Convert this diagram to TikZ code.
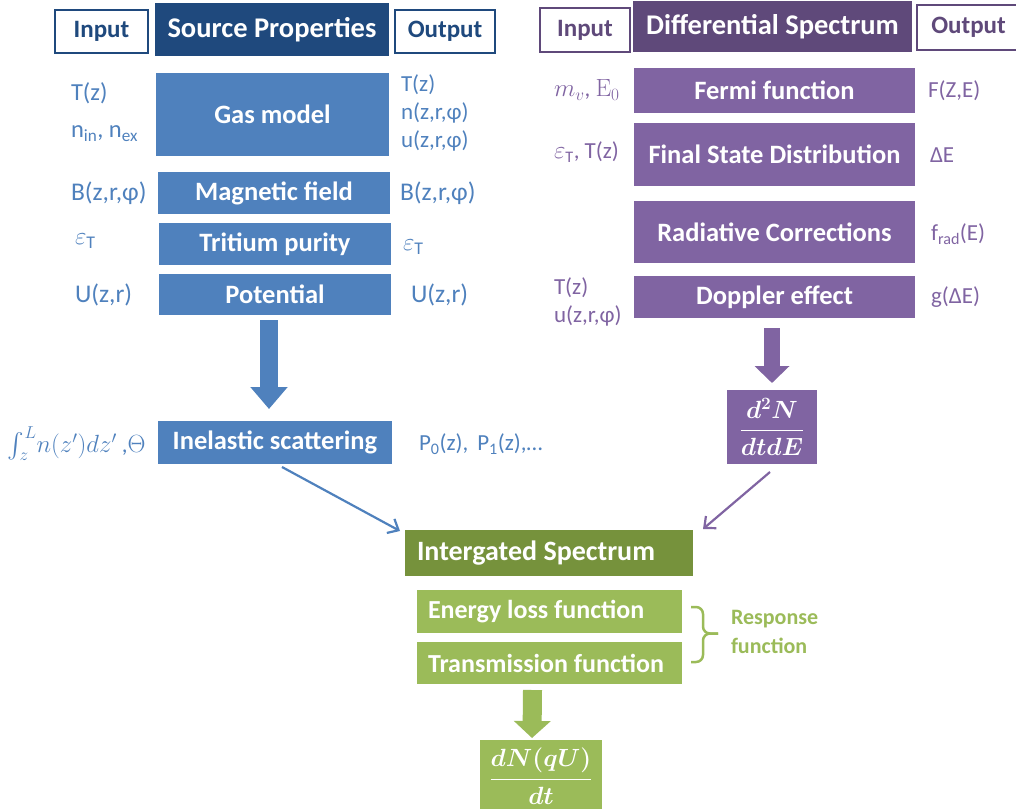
\documentclass[tikz,border=0pt]{standalone}
\usepackage{amsmath}
\usepackage[no-math]{fontspec}
\setmainfont{Carlito}
\usetikzlibrary{arrows.meta,calc}
\definecolor{hdrblue}{HTML}{1F497D}
\definecolor{boxblue}{HTML}{4F81BD}
\definecolor{txtblue}{HTML}{4F81BD}
\definecolor{hdrpurple}{HTML}{5F497A}
\definecolor{boxpurple}{HTML}{8064A2}
\definecolor{txtpurple}{HTML}{8064A2}
\definecolor{dkgreen}{HTML}{76923C}
\definecolor{ltgreen}{HTML}{9BBB59}
\tikzset{
  every node/.style={inner sep=0pt, outer sep=0pt},
  hdrfont/.style={font=\fontsize{28.5}{32}\selectfont\bfseries},
  lblfont/.style={font=\fontsize{26.5}{30}\selectfont\bfseries},
  grnfont/.style={font=\fontsize{26}{30}\selectfont\bfseries},
  iofont/.style={font=\fontsize{23}{28}\selectfont},
  iofontL/.style={font=\fontsize{25.5}{30}\selectfont},
  hdrbox/.style={hdrfont, text=white, fill=#1},
  iobox/.style={font=\fontsize{25}{29}\selectfont\bfseries, text=#1, draw=#1, line width=2.5pt, fill=white},
  fbox/.style={lblfont, text=white, fill=#1},
  gbox/.style={grnfont, text=white, fill=ltgreen, inner xsep=11pt},
  iotext/.style={iofont, text=#1, align=left, anchor=west},
  iotextL/.style={iofontL, text=#1, align=left, anchor=west},
  blockarrow/.style={draw=#1, line width=18pt, -{Triangle[length=22pt, width=36pt]}},
  thinarrow/.style={draw=#1, line width=2.2pt, -{Straight Barb[length=9pt, width=16pt, line width=2.2pt]}},
  bracestyle/.style={draw=ltgreen, line width=2.5pt, rounded corners=7pt},
}
\begin{document}
\begin{tikzpicture}[x=1pt,y=-1pt]
\useasboundingbox (0,0) rectangle (1016,808);
\clip (0,0) rectangle (1016,808);

% ---------- Left: Source Properties ----------
\node[iobox=hdrblue, minimum width=93, minimum height=43] (inL) at (101.5,31.5) {Input};
\node[hdrbox=hdrblue, minimum width=234, minimum height=53] (srcP) at (272,29.5) {Source Properties};
\node[iobox=hdrblue, minimum width=100, minimum height=43] (outL) at (445,31.5) {Output};

\node[fbox=boxblue, minimum width=233, minimum height=83] (gas) at (272.5,114.5) {Gas model};
\node[fbox=boxblue, minimum width=232, minimum height=42] (mag) at (274,193) {Magnetic field};
\node[fbox=boxblue, minimum width=232, minimum height=42] (trit) at (275,244) {Tritium purity};
\node[fbox=boxblue, minimum width=232, minimum height=41] (pot) at (275,294.5) {Potential};
\node[fbox=boxblue, minimum width=234, minimum height=43] (inel) at (275,442.5) {Inelastic scattering};

\node[iotext=txtblue, font=\fontsize{24.5}{29}\selectfont] (gasIn) at (71,112) {T(z)\\[8pt]n\textsubscript{in}, n\textsubscript{ex}};
\node[iotext=txtblue] (gasOut) at (401,113) {T(z)\\n(z,r,φ)\\u(z,r,φ)};
\node[iotextL=txtblue] (magIn) at (71,193) {B(z,r,φ)};
\node[iotextL=txtblue] (magOut) at (400,193) {B(z,r,φ)};
\node[iotextL=txtblue] (tritIn) at (75,241) {$\varepsilon$\textsubscript{T}};
\node[iotextL=txtblue] (tritOut) at (403,247) {$\varepsilon$\textsubscript{T}};
\node[iotextL=txtblue] (potIn) at (75,295) {U(z,r)};
\node[iotextL=txtblue] (potOut) at (411,295) {U(z,r)};
\node[iotext=txtblue] (inelIn) at (8,444) {$\int_{z}^{L}\! n(z')dz'$ ,$\Theta$};
\node[iotext=txtblue] (inelOut) at (419,444) {P\textsubscript{0}(z),\, P\textsubscript{1}(z),…};

\draw[blockarrow=boxblue] ($(pot.south)+(-6,5)$) -- ($(inel.north)+(-6,-12)$);

% ---------- Right: Differential Spectrum ----------
\node[iobox=hdrpurple, minimum width=90, minimum height=44] (inR) at (585,30) {Input};
\node[hdrbox=hdrpurple, minimum width=279, minimum height=51] (diff) at (772.5,26.5) {Differential Spectrum};
\node[iobox=hdrpurple, minimum width=103, minimum height=45] (outR) at (968.5,27.5) {Output};

\node[fbox=boxpurple, minimum width=281, minimum height=45] (fermi) at (774.5,90.5) {Fermi function};
\node[fbox=boxpurple, minimum width=281, minimum height=63] (fsd) at (774.5,154.5) {Final State Distribution};
\node[fbox=boxpurple, minimum width=281, minimum height=62] (rad) at (774.5,232) {Radiative Corrections};
\node[fbox=boxpurple, minimum width=281, minimum height=42] (dopp) at (774.5,297) {Doppler effect};

\node[iotext=txtpurple] (fermiIn) at (554,90) {$m_v$, $\mathrm{E}_0$};
\node[iotext=txtpurple] (fermiOut) at (928,91) {F(Z,E)};
\node[iotext=txtpurple] (fsdIn) at (554,152) {$\varepsilon$\textsubscript{T}, T(z)};
\node[iotext=txtpurple] (fsdOut) at (930,155) {ΔE};
\node[iotext=txtpurple] (radOut) at (931,234) {f\textsubscript{rad}(E)};
\node[iotext=txtpurple] (doppIn) at (554,302) {T(z)\\u(z,r,φ)};
\node[iotext=txtpurple] (doppOut) at (931,297) {g(ΔE)};

\node[fill=boxpurple, text=white, minimum width=90, minimum height=74,
      font=\fontsize{25}{29}\selectfont\boldmath] (d2N) at (772,427) {$\displaystyle\frac{d^2N}{dtdE}$};

\draw[blockarrow=boxpurple, line width=16pt, -{Triangle[length=17pt, width=34pt]}]
  ($(dopp.south)+(-2.5,10)$) -- ($(d2N.north)+(0,-7)$);

% ---------- Bottom: Integrated Spectrum ----------
\node[fill=dkgreen, text=white, font=\fontsize{28}{32}\selectfont\bfseries,
      inner xsep=12pt, minimum height=46] (integ) at (549,553) {\makebox[264pt][l]{Intergated Spectrum}};
\node[gbox, minimum height=43] (eloss) at (549.5,611.5) {\makebox[243pt][l]{Energy loss function}};
\node[gbox, minimum height=42] (trans) at (549.5,663) {\makebox[243pt][l]{Transmission function}};

\coordinate (braceTop) at (691,607);
\coordinate (braceBot) at (691,662);
\coordinate (braceMid) at (703,633.5);
\coordinate (braceTip) at (718,633.5);
\draw[bracestyle] (braceTop) -| (braceMid) -- (braceTip);
\draw[bracestyle] (braceBot) -| (braceMid) -- (braceTip);
\node[font=\fontsize{22}{29}\selectfont\bfseries, text=ltgreen, align=left, anchor=west] (resp) at (731,632)
  {Response\\function};

\node[fill=ltgreen, text=white, minimum width=122, minimum height=72,
      font=\fontsize{25}{29}\selectfont\boldmath] (dNdt) at (541,776) {$\displaystyle\frac{dN(qU)}{dt}$};

\draw[blockarrow=ltgreen, line width=19pt, -{Triangle[length=17pt, width=36pt]}]
  ($(trans.south)+(-17,6)$) -- ($(dNdt.north)+(-9,-2)$);

% ---------- thin connectors ----------
\draw[thinarrow=boxblue] ($(inel.south)+(7,3)$) -- ($(integ.north west)+(-5,1)$);
\draw[thinarrow=boxpurple] ($(d2N.south)+(-2,8)$) -- ($(integ.north east)+(10,-1)$);

\end{tikzpicture}
\end{document}
